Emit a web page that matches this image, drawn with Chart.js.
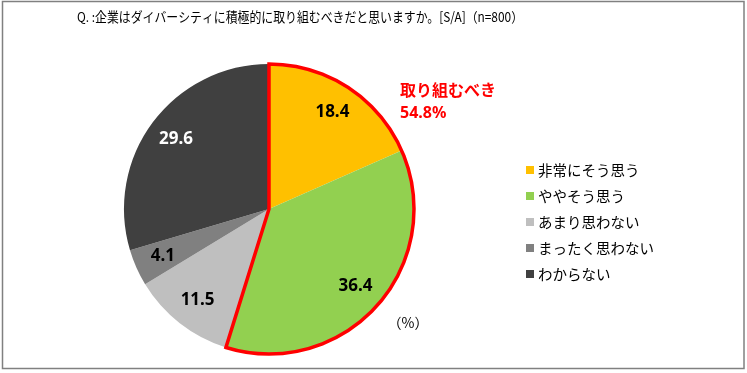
<!DOCTYPE html>
<html><head><meta charset="utf-8">
<script src="https://cdn.jsdelivr.net/npm/chart.js@4/dist/chart.umd.min.js"></script>
<style>html,body{margin:0;padding:0;background:#fff;}#wrap{position:relative;width:747px;height:373px;}</style>
</head><body><div id="wrap"><canvas id="c" width="747" height="373"></canvas></div>
<script>
const title = "Q. :企業はダイバーシティに積極的に取り組むべきだと思いますか。[S/A]（n=800）";
const categories = ["非常にそう思う","ややそう思う","あまり思わない","まったく思わない","わからない"];
const values = [18.4, 36.4, 11.5, 4.1, 29.6];
const colors = ["#FFC000","#92D050","#BFBFBF","#808080","#404040"];
const labelColors = ["#000","#000","#000","#000","#fff"];
const groupLabel = "取り組むべき";
const groupValue = "54.8%";
const unitLabel = "（%）";
const JP = '"Noto Sans CJK JP","Noto Sans",sans-serif';

const deco = {
  id:'deco',
  afterDatasetsDraw(chart){
    const ctx = chart.ctx;
    const meta = chart.getDatasetMeta(0);
    meta.data.forEach((arc,i)=>{
      const p = arc.getProps(['x','y','startAngle','endAngle','outerRadius'],true);
      const mid = (p.startAngle+p.endAngle)/2;
      const r = p.outerRadius*0.8;
      ctx.save();
      ctx.font = 'bold 17px "Noto Sans",sans-serif';
      ctx.fillStyle = labelColors[i];
      ctx.textAlign='center'; ctx.textBaseline='middle';
      ctx.fillText(values[i].toFixed(1), p.x+Math.cos(mid)*r, p.y+Math.sin(mid)*r);
      ctx.restore();
    });
    const a0 = meta.data[0].getProps(['x','y','startAngle','outerRadius'],true);
    const a1 = meta.data[1].getProps(['endAngle'],true);
    ctx.save();
    ctx.beginPath();
    ctx.moveTo(a0.x,a0.y);
    ctx.arc(a0.x,a0.y,a0.outerRadius,a0.startAngle,a1.endAngle);
    ctx.closePath();
    ctx.strokeStyle='#FF0000'; ctx.lineWidth=3.5; ctx.lineJoin='miter';
    ctx.stroke();
    ctx.restore();
  },
  afterDraw(chart){
    const ctx = chart.ctx;
    ctx.save();
    ctx.strokeStyle='#808080'; ctx.lineWidth=1.5;
    ctx.strokeRect(2.5,1.5,741.5,367);
    ctx.fillStyle='#000'; ctx.font='13.5px '+JP;
    ctx.textAlign='left'; ctx.textBaseline='middle';
    ctx.fillText(title,77,17,446);
    ctx.fillStyle='#FF0000'; ctx.font='bold 16px '+JP;
    ctx.fillText(groupLabel,400,90);
    ctx.font='bold 16px "Noto Sans",sans-serif';
    ctx.fillText(groupValue,400,113);
    ctx.fillStyle='#000'; ctx.font='14px '+JP;
    ctx.textAlign='center';
    ctx.fillText(unitLabel,408,323);
    ctx.textAlign='left';
    categories.forEach((c,i)=>{
      const y = 170 + i*26;
      ctx.fillStyle=colors[i];
      ctx.fillRect(526,y-4,8,8);
      ctx.fillStyle='#000'; ctx.font='14.5px '+JP;
      ctx.fillText(c,538,y);
    });
    ctx.restore();
  }
};

new Chart(document.getElementById('c'),{
  type:'pie',
  data:{labels:categories,datasets:[{data:values,backgroundColor:colors,borderWidth:0}]},
  options:{
    responsive:false, animation:false,
    layout:{padding:{left:124,top:64,right:333,bottom:19}},
    plugins:{legend:{display:false},tooltip:{enabled:false},title:{display:false}}
  },
  plugins:[deco]
});
</script></body></html>
